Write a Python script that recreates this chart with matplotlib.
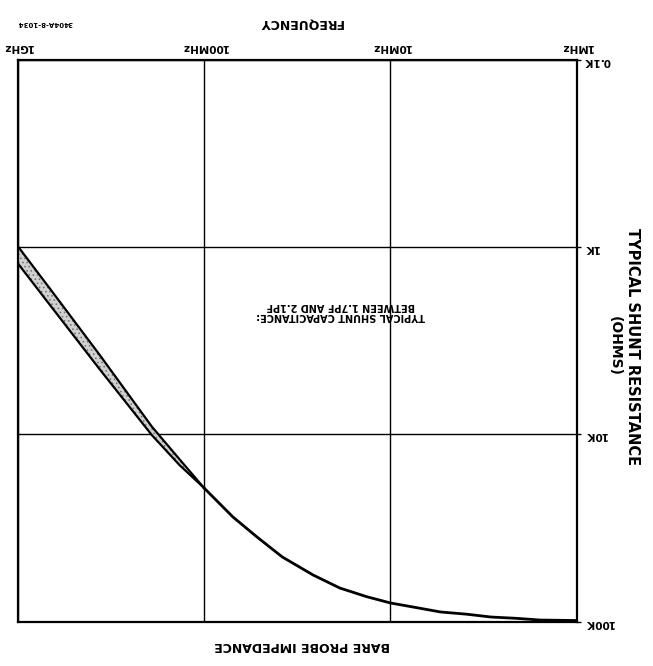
import matplotlib
matplotlib.use("Agg")
import matplotlib.pyplot as plt
import numpy as np

# band of the high-frequency region (frequency in MHz, impedance in kOhm)
band_freq = [1000, 670, 360, 190, 135, 100]
r_1p7pf = [1.21, 2.03, 4.52, 10.1, 14.6, 19.3]
r_2p1pf = [0.98, 1.66, 3.79, 9.1, 13.6, 19.3]

# single curve below 100MHz
curve_freq = [100, 70, 52, 44.4, 38, 26, 18.7, 13.4, 10, 7.2, 5.4, 3.9, 2.9, 2.1, 1.58, 1.0]
curve_r = [19.3, 27.6, 35.3, 40.0, 45.2, 56.4, 66.2, 73.7, 79.6, 84.4, 88.9, 91.4, 94.6, 96.2, 98.2, 98.8]

freq_ticks = [1000, 100, 10, 1]
freq_labels = ['1GHz', '100MHz', '10MHz', '1MHz']
r_ticks = [0.1, 1, 10, 100]
r_labels = ['0.1K', '1K', '10K', '100K']

plt.rcParams['font.family'] = 'DejaVu Sans'
plt.rcParams['hatch.linewidth'] = 0.6

fig = plt.figure(figsize=(6.53, 6.66), dpi=100)
ax = fig.add_axes([0.0268, 0.0668, 0.8568, 0.8424])

ax.set_xscale('log')
ax.set_yscale('log')
# whole sheet is printed upside down
ax.set_xlim(1000, 1)
ax.set_ylim(100, 0.1)

ax.fill(np.concatenate([band_freq, band_freq[::-1]]),
        np.concatenate([r_1p7pf, r_2p1pf[::-1]]),
        facecolor='#d0d0d0', edgecolor='#707070', linewidth=0, hatch='....', zorder=2)
ax.plot(band_freq, r_1p7pf, color='black', lw=1.6, zorder=3)
ax.plot(band_freq, r_2p1pf, color='black', lw=1.6, zorder=3)
ax.plot(curve_freq, curve_r, color='black', lw=2.0, zorder=3)

ax.xaxis.tick_top()
ax.set_xticks(freq_ticks)
ax.set_xticklabels(freq_labels, rotation=180, fontsize=7.5, fontweight='bold')
ax.xaxis.set_minor_locator(matplotlib.ticker.NullLocator())
ax.yaxis.tick_right()
ax.set_yticks(r_ticks)
ax.set_yticklabels(r_labels, rotation=180, fontsize=7.5, fontweight='bold', ha='left')
ax.yaxis.set_minor_locator(matplotlib.ticker.NullLocator())
ax.tick_params(axis='x', length=0, pad=6)
ax.tick_params(axis='y', length=3, width=1, pad=2)

ax.grid(True, which='major', color='black', lw=1.0)
for s in ax.spines.values():
    s.set_linewidth(1.6)

fig.text(0.46, 0.965, 'FREQUENCY', rotation=180, ha='center', va='center',
         fontsize=9, fontweight='bold')
fig.text(0.462, 0.031, 'BARE PROBE IMPEDANCE', rotation=180, ha='center', va='center',
         fontsize=9, fontweight='bold')
fig.text(0.069, 0.965, '3404A-8-1034', rotation=180, ha='center', va='center',
         fontsize=5, fontweight='bold')
fig.text(0.968, 0.48, 'TYPICAL SHUNT RESISTANCE', rotation=-90, ha='center', va='center',
         fontsize=10.5, fontweight='bold')
fig.text(0.942, 0.48, '(OHMS)', rotation=-90, ha='center', va='center',
         fontsize=10, fontweight='bold')
fig.text(0.522, 0.533, 'TYPICAL SHUNT CAPACITANCE:\nBETWEEN 1.7PF AND 2.1PF',
         rotation=180, ha='center', va='center', ma='center',
         fontsize=7, fontweight='bold', linespacing=1.1)

fig.savefig('out.png', dpi=100)
